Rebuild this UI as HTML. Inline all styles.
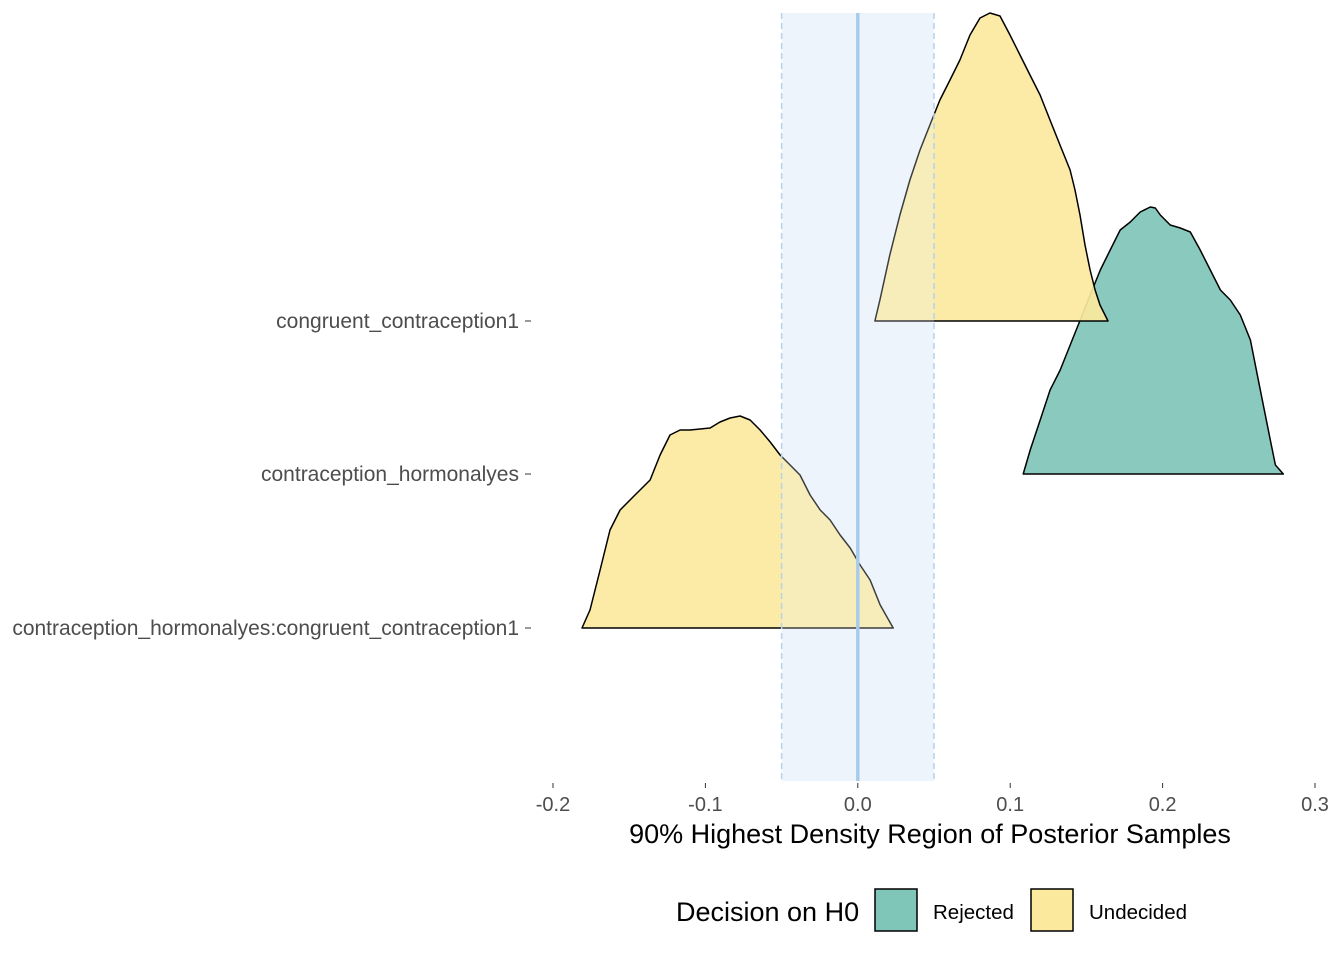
<!DOCTYPE html>
<html><head><meta charset="utf-8"><style>
body{margin:0;background:#fff;}
svg{display:block;font-family:"Liberation Sans",Arial,sans-serif;}
</style></head><body>
<svg id="chart" width="1344" height="960">
<g id="band"></g>
<g id="ridges"></g>
<g id="over"></g>
<g id="xaxis"></g>
<g id="yaxis"></g>
<text x="930" y="843" text-anchor="middle" font-size="27" fill="#000">90% Highest Density Region of Posterior Samples</text>
<g>
<text x="676" y="921" font-size="27" fill="#000">Decision on H0</text>
<rect x="875" y="889" width="42" height="42" fill="#80c6b8" stroke="#000" stroke-width="1.5"/>
<text x="933" y="919" font-size="20.5" fill="#000">Rejected</text>
<rect x="1031" y="889" width="42" height="42" fill="#fbe99e" stroke="#000" stroke-width="1.5"/>
<text x="1089" y="919" font-size="20.5" fill="#000">Undecided</text>
</g>
</svg>
<script>
const categories=["congruent_contraception1","contraception_hormonalyes","contraception_hormonalyes:congruent_contraception1"];
const decisions=["Undecided","Rejected","Undecided"];
const xTicks=[-0.2,-0.1,0.0,0.1,0.2,0.3];
const xTickLabels=["-0.2","-0.1","0.0","0.1","0.2","0.3"];
const rope=[-0.05,0.05];
const dens1X=[0.0112,0.0145,0.0210,0.0276,0.0342,0.0408,0.0473,0.0539,0.0605,0.0670,0.0736,0.0802,0.0867,0.0933,0.0999,0.1064,0.1130,0.1196,0.1261,0.1327,0.1393,0.1425,0.1458,0.1491,0.1524,0.1557,0.1589,0.1642];
const dens1Y=[0,21,66,106,141,171,196,221,241,261,286,303,308,305,286,266,246,226,201,176,151,131,106,76,51,31,16,0];
const dens2X=[0.1085,0.1131,0.1197,0.1262,0.1328,0.1394,0.1459,0.1525,0.1591,0.1656,0.1722,0.1788,0.1853,0.1919,0.1952,0.1985,0.2050,0.2116,0.2182,0.2247,0.2313,0.2379,0.2444,0.2510,0.2576,0.2641,0.2707,0.2740,0.2792];
const dens2Y=[0,24,54,84,104,129,154,179,204,224,244,252,262,267,266,259,249,246,242,224,204,184,174,159,134,84,34,9,0];
const dens3X=[-0.1810,-0.1757,-0.1691,-0.1626,-0.1560,-0.1462,-0.1363,-0.1297,-0.1232,-0.1166,-0.1101,-0.0969,-0.0904,-0.0838,-0.0772,-0.0707,-0.0641,-0.0575,-0.0510,-0.0444,-0.0379,-0.0313,-0.0247,-0.0182,-0.0116,-0.0050,0.0015,0.0081,0.0147,0.0232];
const dens3Y=[0,18,58,98,118,133,148,173,193,198,198,200,206,210,212,208,198,186,173,163,153,133,118,108,93,80,63,48,23,0];
const X0=553,X1=1315,D0=-0.2,D1=0.3;
const xs=v=>X0+(v-D0)/(D1-D0)*(X1-X0);
const baseY=[321,474,628];
const ys=(i,h)=>baseY[i]-h;
const fills={Undecided:"#fbe99e",Rejected:"#80c6b8"};
const NS="http://www.w3.org/2000/svg";
function mk(tag,attrs,parent){const e=document.createElementNS(NS,tag);for(const k in attrs)e.setAttribute(k,attrs[k]);parent.appendChild(e);return e;}
const band=document.getElementById('band'),ridges=document.getElementById('ridges'),over=document.getElementById('over');
const br=mk('rect',{x:xs(rope[0]),y:13,width:xs(rope[1])-xs(rope[0]),height:768,fill:"#eef5fd"},band);


const curves=[[dens1X,dens1Y],[dens2X,dens2Y],[dens3X,dens3Y]];
for(let i=curves.length-1;i>=0;i--){
  const c=curves[i];
  const pts=c[0].map((x,j)=>xs(x).toFixed(1)+","+ys(i,c[1][j]).toFixed(1)).join(" ");
  const p=mk('polygon',{points:pts,fill:fills[decisions[i]],"fill-opacity":0.92,stroke:"#000","stroke-width":1.5,"stroke-linejoin":"round"},ridges);
  
  
}
const ov=mk('rect',{x:xs(rope[0]),y:13,width:xs(rope[1])-xs(rope[0]),height:768,fill:"#eef5fd","fill-opacity":0.25},over);


rope.forEach(r=>{
  const l=mk('line',{x1:xs(r),x2:xs(r),y1:13,y2:781,stroke:"#b6d2ec","stroke-width":1.5,"stroke-dasharray":"6,4"},over);
  
  
});
const zl=mk('line',{x1:xs(0),x2:xs(0),y1:13,y2:781,stroke:"#a9cbea","stroke-width":3.5},over);


const xa=document.getElementById('xaxis');
xTicks.forEach((t,i)=>{
  const tk=mk('line',{x1:xs(t),x2:xs(t),y1:783,y2:788,stroke:"#333","stroke-width":1},xa);
  
  
  const tx=mk('text',{x:xs(t),y:811,"text-anchor":"middle","font-size":20,fill:"#4d4d4d"},xa);
  tx.textContent=xTickLabels[i];
  
  
});
const ya=document.getElementById('yaxis');
categories.forEach((c,i)=>{
  const tk=mk('line',{x1:525,x2:531,y1:baseY[i],y2:baseY[i],stroke:"#333","stroke-width":1},ya);
  
  
  const tx=mk('text',{x:519,y:baseY[i]+7,"text-anchor":"end","font-size":21,fill:"#4d4d4d"},ya);
  tx.textContent=c;
  
  
});
</script>
</body></html>
